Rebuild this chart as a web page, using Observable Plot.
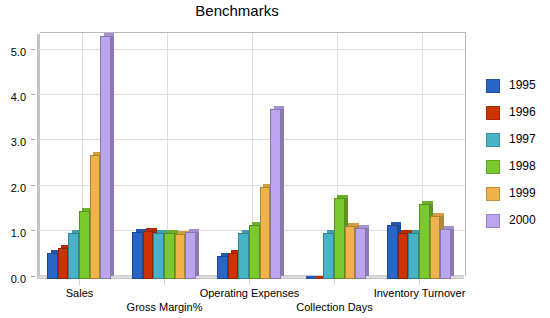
<!DOCTYPE html>
<html>
<head>
<meta charset="utf-8">
<script src="https://cdn.jsdelivr.net/npm/d3@7"></script>
<script src="https://cdn.jsdelivr.net/npm/@observablehq/plot@0.6"></script>
<style>
  html, body { margin: 0; padding: 0; background: #fff; }
  #chart { position: relative; width: 550px; height: 318px; font-family: "Liberation Sans", Arial, sans-serif; }
  #chart svg { display: block; }
  .title { position: absolute; left: 0; top: 2px; width: 474px; text-align: center; font-size: 15px; color: #000; }
  .legend { position: absolute; left: 486px; top: 79px; }
  .legend .item { position: relative; height: 27px; }
  .legend .sw { position: absolute; left: 0; top: 0; width: 12px; height: 12px; border: 1px solid; }
  .legend .lb { position: absolute; left: 23px; top: -1px; font-size: 12px; line-height: 15px; color: #000; }
</style>
</head>
<body>
<div id="chart"></div>
<script>
// Benchmark indices by year (1997 = 1.0)
const categories = ["Sales", "Gross Margin%", "Operating Expenses", "Collection Days", "Inventory Turnover"];
const years = ["1995", "1996", "1997", "1998", "1999", "2000"];
const sales = [0.56, 0.67, 1.00, 1.49, 2.72, 5.35];
const grossMargin = [1.02, 1.05, 1.00, 1.01, 0.99, 1.02];
const operatingExpenses = [0.50, 0.56, 1.00, 1.18, 2.01, 3.73];
const collectionDays = [0.00, 0.00, 1.00, 1.77, 1.15, 1.12];
const inventoryTurnover = [1.18, 1.00, 1.00, 1.64, 1.37, 1.09];
const yTicks = [0, 1, 2, 3, 4, 5];
const yearColors = ["#2a64c5", "#cc3300", "#48b3c6", "#7ac92e", "#eeb44b", "#bba5ef"];

const series = [sales, grossMargin, operatingExpenses, collectionDays, inventoryTurnover];
const rows = series.flatMap((vals, ci) =>
  vals.map((value, yi) => ({category: categories[ci], year: years[yi], value, ci, yi})));

// group layout: each category occupies one unit on x, bars fill a share of it
const groupShare = 0.746;
const slot = groupShare / years.length;
const barX1 = d => d.ci + 0.5 - groupShare / 2 + d.yi * slot;
const barX2 = d => barX1(d) + slot;
const centers = categories.map((c, i) => ({category: c, pos: i + 0.5, row: i % 2}));

const yMax = 5.36;
const depthX = 3.4, depthY = -3;   // oblique depth of the 3D look
const gridColor = "#dedede";
const edgeColor = "#b9b9b9";
const crisp = {shapeRendering: "crispEdges"};

const chart = Plot.plot({
  width: 550,
  height: 318,
  marginLeft: 36.5,
  marginRight: 88.5,
  marginTop: 35.3,
  marginBottom: 39.3,
  style: {fontFamily: "'Liberation Sans', Arial, sans-serif", fontSize: "11px", background: "#fff", color: "#000"},
  x: {type: "linear", domain: [0, categories.length], axis: null},
  y: {domain: [0, yMax], axis: null},
  color: {domain: years, range: yearColors},
  marks: [
    // back wall grid
    Plot.ruleY(yTicks.slice(1), {x1: 0, x2: categories.length, dx: depthX, dy: depthY, stroke: gridColor, ...crisp}),
    Plot.ruleX(centers, {x: "pos", y1: 0, y2: yMax, dx: depthX, dy: depthY, stroke: gridColor, ...crisp}),
    Plot.ruleY([yMax], {x1: 0, x2: categories.length, dx: depthX, dy: depthY, stroke: edgeColor, ...crisp}),
    Plot.ruleX([categories.length], {y1: 0, y2: yMax, dx: depthX, dy: depthY, stroke: edgeColor, ...crisp}),
    // left wall and floor
    Plot.rect([0], {x1: 0, x2: 0, y1: 0, y2: yMax, insetRight: -3.5, insetTop: -1.5, fill: "#c4c4c4", ...crisp}),
    Plot.rect([0], {x1: 0, x2: categories.length, y1: 0, y2: 0, insetTop: -3, dx: 1.7, fill: "#dcdcdc", stroke: "#c2c2c2", strokeWidth: 0.8, ...crisp}),
    // axis ticks
    Plot.ruleY(yTicks, {y: d => d, x1: 0, x2: 0, insetLeft: -6, insetRight: 1.5, dy: depthY, stroke: "#a8a8a8", ...crisp}),
    Plot.ruleX(centers, {x: "pos", y1: 0, y2: 0, insetTop: 0.5, insetBottom: -6, stroke: "#d0d0d0", ...crisp}),
    Plot.text(yTicks, {x: 0, y: d => d, text: d => d.toFixed(1), textAnchor: "end", dx: -11, fill: "#000"}),
    Plot.text(centers, {x: "pos", y: 0, text: "category", dy: 14, filter: d => d.row === 0, fill: "#000"}),
    Plot.text(centers, {x: "pos", y: 0, text: "category", dy: 28, filter: d => d.row === 1, fill: "#000"}),
    // bar side faces
    Plot.rect(rows, {x1: barX1, x2: barX2, y1: 0, y2: "value", dx: depthX, dy: depthY, fill: "year", ...crisp}),
    Plot.rect(rows, {x1: barX1, x2: barX2, y1: 0, y2: "value", dx: depthX, dy: depthY, fill: "#000", fillOpacity: 0.25, ...crisp}),
    // bar top faces
    Plot.rect(rows, {x1: barX1, x2: barX2, y1: "value", y2: "value", insetTop: -3, dx: depthX, fill: "year", ...crisp}),
    Plot.rect(rows, {x1: barX1, x2: barX2, y1: "value", y2: "value", insetTop: -3, dx: depthX, fill: "#000", fillOpacity: 0.12, ...crisp}),
    // bar front faces
    Plot.rect(rows, {x1: barX1, x2: barX2, y1: 0, y2: "value", fill: "year", ...crisp}),
    Plot.rect(rows, {x1: barX1, x2: barX2, y1: 0, y2: "value", insetLeft: 0.5, insetRight: 0.5, insetTop: 0.5, fill: "none", stroke: "#000", strokeOpacity: 0.28, ...crisp})
  ]
});

const root = document.getElementById("chart");
root.appendChild(chart);

const title = document.createElement("div");
title.className = "title";
title.textContent = "Benchmarks";
root.appendChild(title);

const legend = document.createElement("div");
legend.className = "legend";
const legendColor = chart.scale("color");
years.forEach((y, i) => {
  const item = document.createElement("div");
  item.className = "item";
  const sw = document.createElement("div");
  sw.className = "sw";
  const c = legendColor.apply(y);
  sw.style.background = c;
  sw.style.borderColor = d3.color(c).darker(0.6).formatHex();
  const lb = document.createElement("div");
  lb.className = "lb";
  lb.textContent = y;
  item.appendChild(sw);
  item.appendChild(lb);
  legend.appendChild(item);
});
root.appendChild(legend);
</script>
</body>
</html>
